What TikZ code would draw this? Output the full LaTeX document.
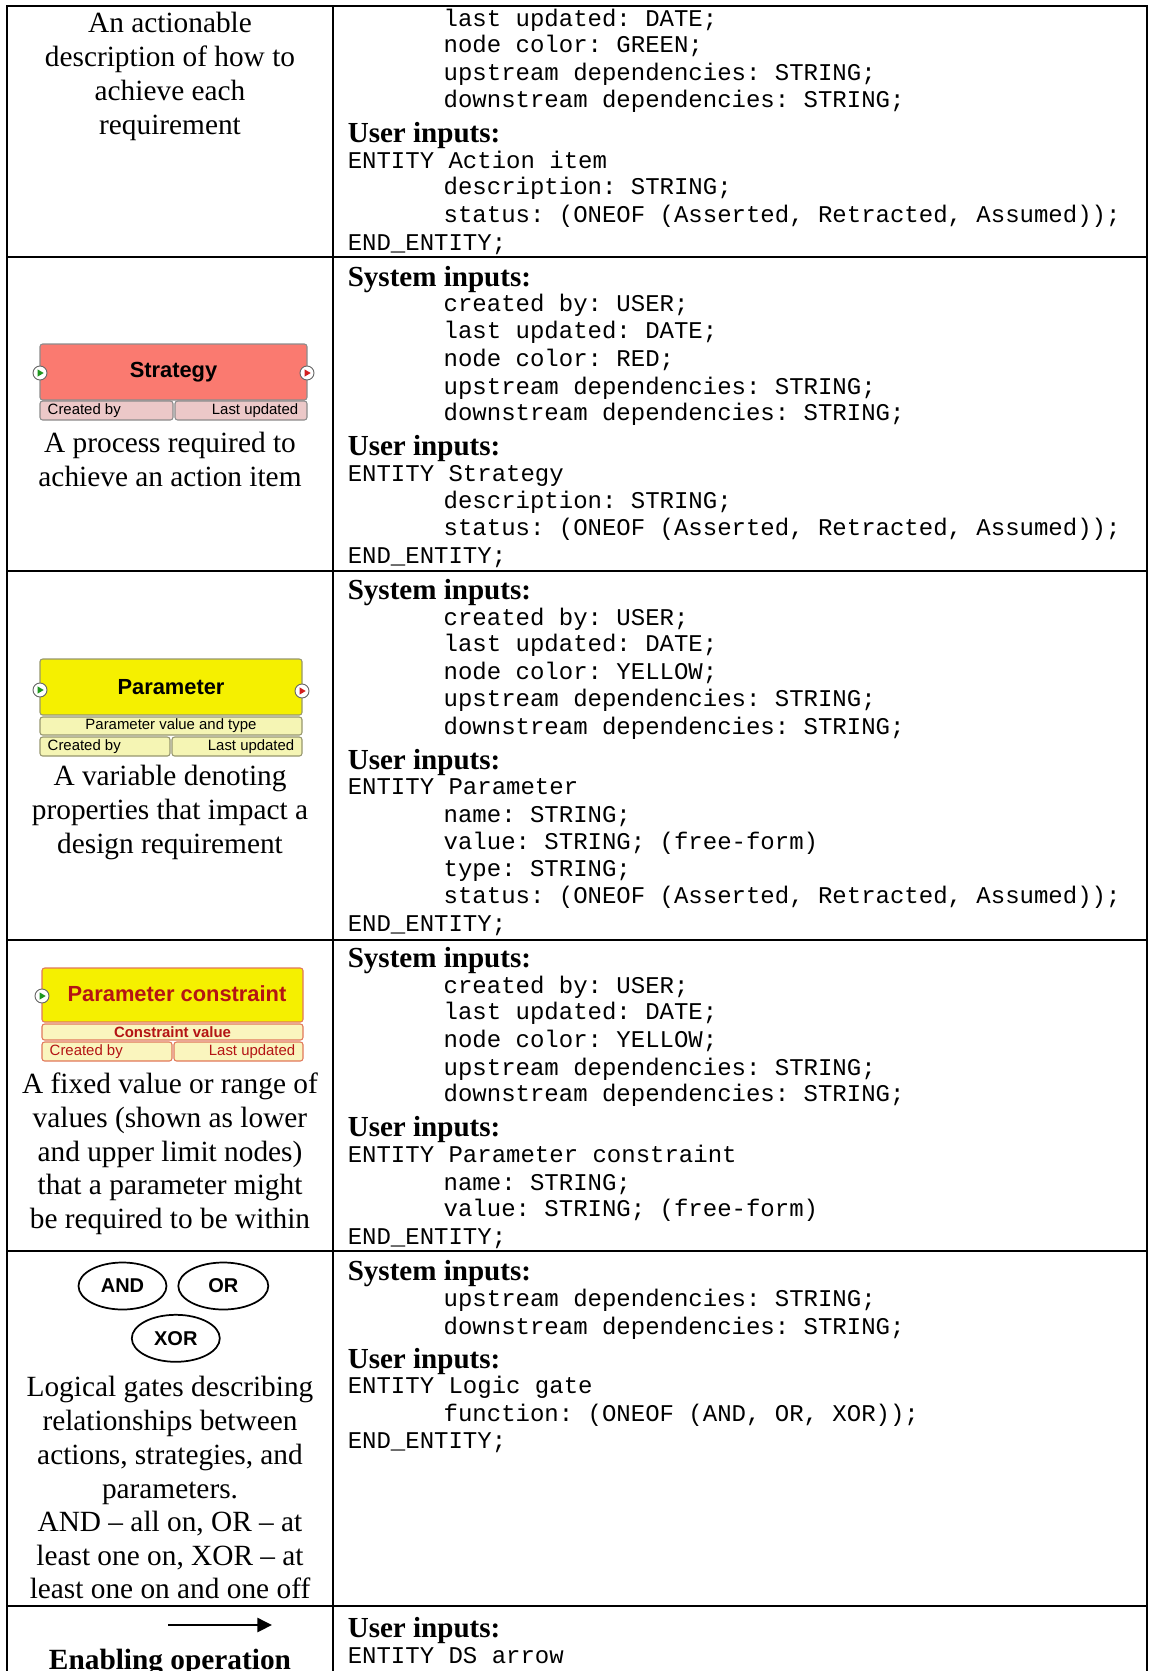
\documentclass[tikz,border=0pt]{standalone}
\usepackage{fontspec}
\setmainfont{Liberation Serif}
\setmonofont{Liberation Mono}
\newfontfamily\arialfont{Liberation Sans}
\usetikzlibrary{shapes.geometric,arrows.meta}

% one drawing unit = one pixel
\def\u{0.75pt}

\definecolor{stratfill}{RGB}{250,122,112}
\definecolor{stratbar}{RGB}{236,200,200}
\definecolor{stratedge}{RGB}{140,140,140}
\definecolor{paramfill}{RGB}{245,240,0}
\definecolor{parambar}{RGB}{245,245,180}
\definecolor{paramedge}{RGB}{150,150,110}
\definecolor{consedge}{RGB}{225,120,90}
\definecolor{constext}{RGB}{180,20,20}
\definecolor{consbar}{RGB}{250,245,190}
\definecolor{portgreen}{RGB}{30,150,30}
\definecolor{portred}{RGB}{210,30,30}

\tikzset{
  tablerule/.style={line width=1.5pt, line cap=rect},
  captxt/.style={font=\fontsize{22}{26}\selectfont, anchor=base, inner sep=0pt},
  captbold/.style={font=\fontsize{22}{26}\selectfont\bfseries, anchor=base, inner sep=0pt},
  headtxt/.style={font=\fontsize{21.8}{26}\selectfont\bfseries, anchor=base west, inner sep=0pt},
  codetxt/.style={font=\fontsize{18}{20}\selectfont\ttfamily, anchor=base west, inner sep=0pt},
  nbox/.style={draw=#1, line width=0.8pt, rounded corners=2pt, inner sep=0pt},
  boxtitle/.style={font=\arialfont\bfseries\fontsize{16.4}{18}\selectfont},
  smalltxt/.style={font=\arialfont\fontsize{11.2}{13}\selectfont, inner sep=0pt},
  smallbold/.style={font=\arialfont\bfseries\fontsize{11.2}{13}\selectfont, inner sep=0pt},
  port/.style={circle, draw=black!60, line width=0.7pt, fill=white,
    minimum size=14*\u, inner sep=0pt,
    path picture={\fill[#1] ([xshift=-1.8pt,yshift=2.7pt]path picture bounding box.center)
      -- ++(4.6pt,-2.7pt) -- ++(-4.6pt,-2.7pt) -- cycle;}},
  gate/.style={ellipse, draw, line width=1.3pt, inner sep=0pt,
    font=\arialfont\bfseries\fontsize{15}{17}\selectfont},
}

\begin{document}
\begin{tikzpicture}[x=0.75pt,y=-0.75pt]
\useasboundingbox (0,0) rectangle (1149,1671);
\clip (0,0) rectangle (1149,1671);

% table rules
\draw[tablerule] (7,6) -- (1147,6);
\draw[tablerule] (7,6) -- (7,1690);
\draw[tablerule] (333,6) -- (333,1690);
\draw[tablerule] (1147,6) -- (1147,1690);
\foreach \y in {257,571,940,1251,1606}
  \draw[tablerule] (7,\y) -- (1147,\y);

% left column captions
\foreach \y/\t [count=\i] in {
  32.5/{An actionable}, 66.6/{description of how to}, 100.7/{achieve each},
  134.8/{requirement},
  452/{A process required to}, 486.5/{achieve an action item},
  785/{A variable denoting}, 819/{properties that impact a}, 853/{design requirement},
  1093/{A fixed value or range of}, 1127/{values (shown as lower},
  1161/{and upper limit nodes)}, 1194/{that a parameter might},
  1228/{be required to be within},
  1396/{Logical gates describing}, 1430/{relationships between},
  1464/{actions, strategies, and}, 1498/{parameters.},
  1531/{AND – all on, OR – at}, 1565/{least one on, XOR – at},
  1598/{least one on and one off}}
  \node[captxt] (cap\i) at (170,\y) {\t};
\node[captbold] (capop) at (170,1669) {Enabling operation};

% right column section headings
\foreach \y/\t [count=\i] in {
  142/{User inputs:},
  286/{System inputs:}, 455.6/{User inputs:},
  599.5/{System inputs:}, 769/{User inputs:},
  967/{System inputs:}, 1136.7/{User inputs:},
  1280.6/{System inputs:}, 1368/{User inputs:},
  1637.7/{User inputs:}}
  \node[headtxt] (hd\i) at (347.5,\y) {\t};

% right column entity definitions
\foreach \x/\y/\t [count=\i] in {
  443.4/26.3/{last updated: DATE;},
  443.4/52.9/{node color: GREEN;},
  443.4/80.6/{upstream dependencies: STRING;},
  443.4/107.3/{downstream dependencies: STRING;},
  347.5/168/{ENTITY Action item},
  443.4/194.7/{description: STRING;},
  443.4/222.4/{status: (ONEOF (Asserted, Retracted, Assumed));},
  347.5/250.1/{END\_ENTITY;},
  443.4/311.9/{created by: USER;},
  443.4/338.6/{last updated: DATE;},
  443.4/366.3/{node color: RED;},
  443.4/394/{upstream dependencies: STRING;},
  443.4/420.6/{downstream dependencies: STRING;},
  347.5/481.4/{ENTITY Strategy},
  443.4/508/{description: STRING;},
  443.4/535.8/{status: (ONEOF (Asserted, Retracted, Assumed));},
  347.5/563.5/{END\_ENTITY;},
  443.4/625.3/{created by: USER;},
  443.4/651.9/{last updated: DATE;},
  443.4/679.6/{node color: YELLOW;},
  443.4/706.3/{upstream dependencies: STRING;},
  443.4/734/{downstream dependencies: STRING;},
  347.5/794.8/{ENTITY Parameter},
  443.4/822.5/{name: STRING;},
  443.4/849.1/{value: STRING; (free-form)},
  443.4/876.8/{type: STRING;},
  443.4/903.5/{status: (ONEOF (Asserted, Retracted, Assumed));},
  347.5/931.2/{END\_ENTITY;},
  443.4/993/{created by: USER;},
  443.4/1019.7/{last updated: DATE;},
  443.4/1047.4/{node color: YELLOW;},
  443.4/1075.1/{upstream dependencies: STRING;},
  443.4/1101.7/{downstream dependencies: STRING;},
  347.5/1162.5/{ENTITY Parameter constraint},
  443.4/1190.2/{name: STRING;},
  443.4/1216.9/{value: STRING; (free-form)},
  347.5/1244.6/{END\_ENTITY;},
  443.4/1306.4/{upstream dependencies: STRING;},
  443.4/1334.1/{downstream dependencies: STRING;},
  347.5/1393.8/{ENTITY Logic gate},
  443.4/1421.5/{function: (ONEOF (AND, OR, XOR));},
  347.5/1448.2/{END\_ENTITY;},
  347.5/1663.5/{ENTITY DS arrow}}
  \node[codetxt] (ln\i) at (\x,\y) {\t};

% Strategy node
\node[nbox=stratedge, fill=stratfill, boxtitle, minimum width=267*\u, minimum height=56*\u]
  (strat) at (173.5,372) {Strategy};
\node[nbox=stratedge, fill=stratbar, minimum width=133*\u, minimum height=19*\u]
  (stratcb) at (106.5,410.5) {};
\node[nbox=stratedge, fill=stratbar, minimum width=132*\u, minimum height=19*\u]
  (stratlu) at (241,410.5) {};
\node[smalltxt, anchor=west] (stratcbt) at ([xshift=8*\u]stratcb.west) {Created by};
\node[smalltxt, anchor=east] (stratlut) at ([xshift=-9*\u]stratlu.east) {Last updated};
\node[port=portgreen] (stratin) at (40,373) {};
\node[port=portred] (stratout) at (307,373) {};

% Parameter node
\node[nbox=paramedge, fill=paramfill, boxtitle, minimum width=262*\u, minimum height=56*\u]
  (param) at (171,687) {Parameter};
\node[nbox=paramedge, fill=parambar, smalltxt, minimum width=262*\u, minimum height=18*\u]
  (paramval) at (171,726) {Parameter value and type};
\node[nbox=paramedge, fill=parambar, minimum width=130*\u, minimum height=19*\u]
  (paramcb) at (105,746.5) {};
\node[nbox=paramedge, fill=parambar, minimum width=130*\u, minimum height=19*\u]
  (paramlu) at (237,746.5) {};
\node[smalltxt, anchor=west] (paramcbt) at ([xshift=8*\u]paramcb.west) {Created by};
\node[smalltxt, anchor=east] (paramlut) at ([xshift=-8*\u]paramlu.east) {Last updated};
\node[port=portgreen] (paramin) at (40,690) {};
\node[port=portred] (paramout) at (302,691) {};

% Parameter constraint node
\node[nbox=consedge, fill=paramfill, minimum width=261*\u, minimum height=54*\u]
  (cons) at (172.5,995) {};
\node[boxtitle, text=constext] (constitle) at (177,994) {Parameter constraint};
\node[nbox=consedge, fill=consbar, smallbold, text=constext, minimum width=261*\u, minimum height=16*\u]
  (consval) at (172.5,1032) {Constraint value};
\node[nbox=consedge, fill=consbar, minimum width=130*\u, minimum height=19*\u]
  (conscb) at (107,1051.5) {};
\node[nbox=consedge, fill=consbar, minimum width=129*\u, minimum height=19*\u]
  (conslu) at (238.5,1051.5) {};
\node[smalltxt, text=constext, anchor=west] (conscbt) at ([xshift=8*\u]conscb.west) {Created by};
\node[smalltxt, text=constext, anchor=east] (conslut) at ([xshift=-8*\u]conslu.east) {Last updated};
\node[port=portgreen] (consin) at (42,996) {};

% logic gates
\node[gate, minimum width=88*\u, minimum height=47*\u] (gand) at (122.5,1286) {AND};
\node[gate, minimum width=90*\u, minimum height=47*\u] (gor) at (223.3,1286) {OR};
\node[gate, minimum width=88*\u, minimum height=47*\u] (gxor) at (175.8,1338.3) {XOR};

% enabling operation arrow
\coordinate (arrs) at (168,1625);
\coordinate (arre) at (272,1625);
\draw[line width=2pt, -{Triangle[length=11pt,width=10.5pt]}] (arrs) -- (arre);

\end{tikzpicture}
\end{document}
